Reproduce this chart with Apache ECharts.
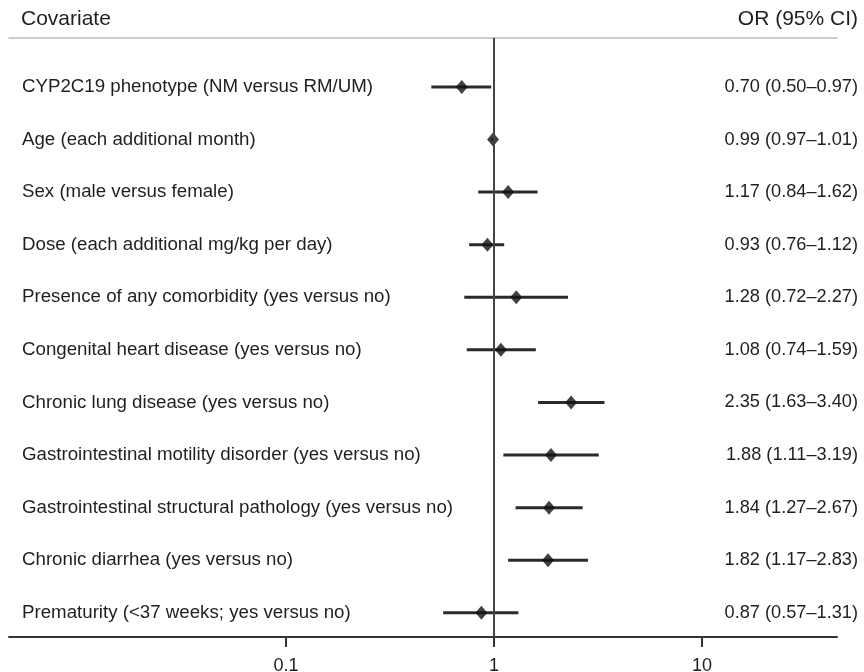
<!DOCTYPE html>
<html>
<head>
<meta charset="utf-8">
<script src="https://cdn.jsdelivr.net/npm/echarts@6/dist/echarts.min.js"></script>
<style>html,body{margin:0;padding:0;background:#fff;}#main{width:864px;height:672px;}</style>
</head>
<body>
<div id="main"></div>
<script>
const covariates = [
  'CYP2C19 phenotype (NM versus RM/UM)',
  'Age (each additional month)',
  'Sex (male versus female)',
  'Dose (each additional mg/kg per day)',
  'Presence of any comorbidity (yes versus no)',
  'Congenital heart disease (yes versus no)',
  'Chronic lung disease (yes versus no)',
  'Gastrointestinal motility disorder (yes versus no)',
  'Gastrointestinal structural pathology (yes versus no)',
  'Chronic diarrhea (yes versus no)',
  'Prematurity (<37 weeks; yes versus no)'
];
const orValues = [0.70, 0.99, 1.17, 0.93, 1.28, 1.08, 2.35, 1.88, 1.84, 1.82, 0.87];
const ciLower = [0.50, 0.97, 0.84, 0.76, 0.72, 0.74, 1.63, 1.11, 1.27, 1.17, 0.57];
const ciUpper = [0.97, 1.01, 1.62, 1.12, 2.27, 1.59, 3.40, 3.19, 2.67, 2.83, 1.31];
const xTickValues = [0.1, 1, 10];
const xMin = 0.00466;
const xMax = 44.6;

const rowIndex = covariates.map((c, i) => i);
const orLabels = orValues.map((v, i) =>
  v.toFixed(2) + ' (' + ciLower[i].toFixed(2) + '\u2013' + ciUpper[i].toFixed(2) + ')');

const FONT = 'Liberation Sans, Arial, Helvetica, sans-serif';
const TXT = '#1f1f1f';
const yMin = -0.93;
const yMax = 10.46;

const chart = echarts.init(document.getElementById('main'), null, {renderer: 'canvas'});
chart.setOption({
  animation: false,
  backgroundColor: '#fff',
  title: [
    {text: 'Covariate', left: 16, top: 4, textStyle: {fontFamily: FONT, fontSize: 21, fontWeight: 'normal', color: TXT}},
    {text: 'OR (95% CI)', right: 1, top: 4, textStyle: {fontFamily: FONT, fontSize: 21, fontWeight: 'normal', color: TXT}}
  ],
  grid: {left: 9, right: 27, top: 38, bottom: 35, containLabel: false, outerBoundsMode: 'none'},
  xAxis: [
    {
      type: 'log', logBase: 10, min: xMin, max: xMax, position: 'bottom',
      axisLine: {show: true, onZero: false, lineStyle: {color: '#333', width: 2}},
      axisTick: {show: true, inside: false, length: 10, customValues: xTickValues, lineStyle: {color: '#333', width: 2}},
      axisLabel: {show: true, margin: 20, customValues: xTickValues, fontFamily: FONT, fontSize: 18, color: TXT,
        formatter: v => String(v)},
      splitLine: {show: false}
    },
    {
      type: 'log', logBase: 10, min: xMin, max: xMax, position: 'top',
      axisLine: {show: true, onZero: false, lineStyle: {color: '#bcbcbc', width: 1.5}},
      axisTick: {show: false}, axisLabel: {show: false}, splitLine: {show: false}
    }
  ],
  yAxis: [
    {
      type: 'value', inverse: true, min: yMin, max: yMax, position: 'left',
      axisLine: {show: false, onZero: false}, axisTick: {show: false}, splitLine: {show: false},
      axisLabel: {inside: true, margin: 13, align: 'left', customValues: rowIndex,
        fontFamily: FONT, fontSize: 18.7, color: TXT, formatter: v => covariates[Math.round(v)] || ''}
    },
    {
      type: 'value', inverse: true, min: yMin, max: yMax, position: 'right',
      axisLine: {show: false, onZero: false}, axisTick: {show: false}, splitLine: {show: false},
      axisLabel: {margin: 21, align: 'right', customValues: rowIndex,
        fontFamily: FONT, fontSize: 18.2, color: TXT, formatter: v => orLabels[Math.round(v)] || ''}
    }
  ],
  series: [
    {
      type: 'custom', xAxisIndex: 0, yAxisIndex: 0,
      data: rowIndex.map(i => [ciLower[i], ciUpper[i], i]),
      encode: {x: [0, 1], y: 2},
      renderItem: (params, api) => {
        const a = api.coord([api.value(0), api.value(2)]);
        const b = api.coord([api.value(1), api.value(2)]);
        return {type: 'line', shape: {x1: a[0], y1: a[1], x2: b[0], y2: b[1]},
          style: {stroke: '#2a2a2a', lineWidth: 3}};
      },
      z: 2,
      markLine: {
        silent: true, symbol: 'none', label: {show: false},
        lineStyle: {color: '#444', width: 2, type: 'solid'},
        data: [{xAxis: 1}]
      }
    },
    {
      type: 'scatter', xAxisIndex: 0, yAxisIndex: 0,
      data: rowIndex.map(i => [orValues[i], i]),
      symbol: 'diamond', symbolSize: [12, 14],
      itemStyle: {color: '#111'}, z: 3
    }
  ]
});
</script>
</body>
</html>
